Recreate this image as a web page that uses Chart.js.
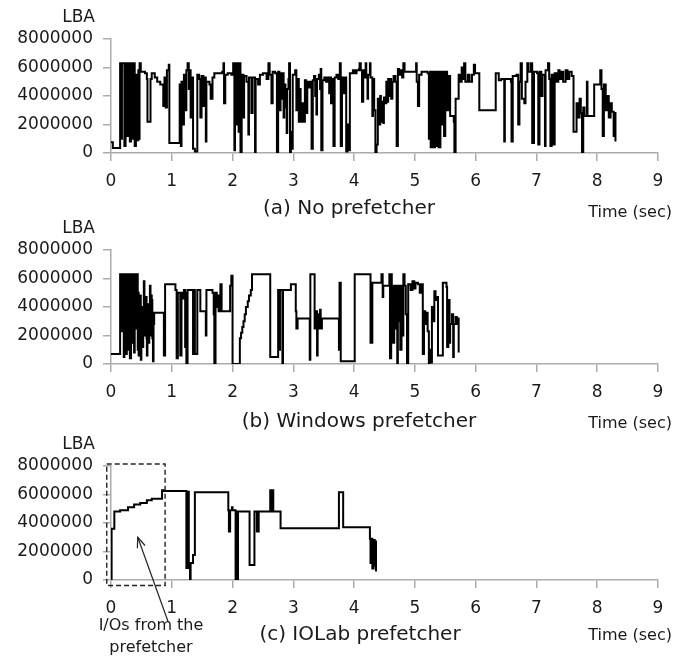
<!DOCTYPE html>
<html><head><meta charset="utf-8">
<script src="https://cdn.jsdelivr.net/npm/chart.js@4.4.1/dist/chart.umd.min.js"></script>
<style>
html,body{margin:0;padding:0;background:#fff;}
#wrap{position:relative;width:684px;height:671px;overflow:hidden;font-family:"DejaVu Sans",sans-serif;color:#1a1a1a;}
canvas{position:absolute;left:0;}
.t{position:absolute;white-space:nowrap;line-height:1;z-index:2;}
.c{transform:translate(-50%,-50%);}
.r{transform:translateY(-50%);}
</style></head><body>
<div id="wrap">
<canvas id="ca" width="684" height="200" style="top:-1px"></canvas>
<canvas id="cb" width="684" height="200" style="top:210px"></canvas>
<canvas id="cc" width="684" height="200" style="top:426px"></canvas>

<div class="t r" style="right:589px;top:16px;font-size:17px">LBA</div>
<div class="t r" style="right:589px;top:227px;font-size:17px">LBA</div>
<div class="t r" style="right:589px;top:443px;font-size:17px">LBA</div>

<div class="t c" style="left:349px;top:207px;font-size:20px">(a) No prefetcher</div>
<div class="t c" style="left:359px;top:420px;font-size:20px">(b) Windows prefetcher</div>
<div class="t c" style="left:360px;top:633px;font-size:20px">(c) IOLab prefetcher</div>

<div class="t r" style="right:12px;top:212px;font-size:16px">Time (sec)</div>
<div class="t r" style="right:12px;top:423px;font-size:16px">Time (sec)</div>
<div class="t r" style="right:12px;top:635px;font-size:16px">Time (sec)</div>

<div class="t c" style="left:151px;top:625px;font-size:16px">I/Os from the</div>
<div class="t c" style="left:151px;top:647px;font-size:16px">prefetcher</div>
</div>
<script>
// ---------- data ----------
const xTicks = [0,1,2,3,4,5,6,7,8,9];
const yTicks = [0,2000000,4000000,6000000,8000000];

// (a) No prefetcher : [time (sec), LBA]
const noPrefetcher = [
[0.00,0.75e6],[0.03,0.35e6],[0.15,6.3e6],[0.17,1.0e6],[0.18,6.3e6],[0.22,0.5e6],[0.24,6.3e6],[0.26,1.2e6],
[0.28,6.3e6],[0.31,0.8e6],[0.33,6.3e6],[0.35,1.0e6],[0.37,6.3e6],[0.39,0.5e6],[0.41,5.5e6],[0.43,0.9e6],
[0.45,5.8e6],[0.46,1.0e6],[0.47,6.3e6],[0.49,5.7e6],[0.56,5.6e6],[0.59,5.2e6],[0.60,2.2e6],[0.65,5.2e6],
[0.67,5.6e6],[0.72,5.3e6],[0.76,5.0e6],[0.81,4.8e6],[0.86,3.3e6],[0.88,5.3e6],[0.90,3.2e6],[0.92,5.8e6],
[0.95,6.2e6],[0.96,0.7e6],[1.13,4.8e6],[1.15,0.5e6],[1.16,5.0e6],[1.19,2.0e6],[1.20,5.5e6],[1.23,3.0e6],
[1.24,5.8e6],[1.26,6.3e6],[1.28,4.5e6],[1.29,5.8e6],[1.31,2.5e6],[1.32,5.3e6],[1.35,0.3e6],[1.38,0.1e6],
[1.42,5.5e6],[1.45,5.2e6],[1.47,2.5e6],[1.49,5.4e6],[1.52,3.3e6],[1.53,5.3e6],[1.56,0.8e6],[1.57,5.0e6],
[1.62,4.8e6],[1.64,3.8e6],[1.67,5.3e6],[1.70,5.6e6],[1.83,5.7e6],[1.85,6.3e6],[1.86,3.5e6],[1.88,5.5e6],
[1.92,5.6e6],[1.98,5.5e6],[2.01,6.3e6],[2.03,0.2e6],[2.04,6.3e6],[2.06,2.0e6],[2.08,6.3e6],[2.10,1.5e6],
[2.12,6.3e6],[2.13,0.05e6],[2.15,5.5e6],[2.18,2.5e6],[2.19,5.4e6],[2.23,5.0e6],[2.26,1.3e6],[2.27,5.3e6],
[2.31,2.8e6],[2.33,5.3e6],[2.37,0.05e6],[2.38,5.2e6],[2.42,4.8e6],[2.45,5.5e6],[2.50,5.6e6],[2.56,5.2e6],
[2.59,6.3e6],[2.61,5.5e6],[2.64,3.5e6],[2.66,5.7e6],[2.70,5.6e6],[2.73,0.05e6],[2.75,5.7e6],[2.77,3.0e6],
[2.79,5.6e6],[2.80,3.8e6],[2.82,5.6e6],[2.84,2.5e6],[2.85,4.8e6],[2.87,3.2e6],[2.89,1.4e6],[2.90,4.5e6],
[2.92,5.2e6],[2.93,6.3e6],[2.945,0.05e6],[2.96,1.5e6],[2.98,0.3e6],[2.99,5.5e6],[3.03,5.8e6],[3.05,3.0e6],
[3.07,5.2e6],[3.09,2.2e6],[3.10,4.5e6],[3.12,2.2e6],[3.15,3.5e6],[3.17,2.2e6],[3.19,5.1e6],[3.21,2.8e6],
[3.23,5.0e6],[3.26,4.6e6],[3.28,5.0e6],[3.30,0.3e6],[3.32,5.1e6],[3.34,5.4e6],[3.36,4.0e6],[3.38,2.7e6],
[3.39,5.2e6],[3.42,5.5e6],[3.44,4.5e6],[3.45,5.9e6],[3.46,0.2e6],[3.48,5.1e6],[3.51,5.3e6],[3.54,5.0e6],
[3.56,5.3e6],[3.59,4.2e6],[3.61,5.3e6],[3.62,3.5e6],[3.64,5.2e6],[3.66,0.5e6],[3.68,5.3e6],[3.71,5.5e6],
[3.74,5.2e6],[3.765,6.3e6],[3.78,0.5e6],[3.80,5.3e6],[3.83,4.2e6],[3.85,5.3e6],[3.87,0.1e6],[3.89,2.0e6],
[3.91,0.2e6],[3.93,5.6e6],[3.98,5.8e6],[4.01,5.6e6],[4.04,5.8e6],[4.08,5.9e6],[4.09,6.3e6],[4.11,5.8e6],
[4.13,3.6e6],[4.15,5.8e6],[4.17,5.3e6],[4.19,6.3e6],[4.20,5.3e6],[4.22,3.8e6],[4.23,5.5e6],[4.26,6.3e6],
[4.27,5.3e6],[4.30,2.6e6],[4.31,5.2e6],[4.33,3.0e6],[4.35,0.05e6],[4.37,0.6e6],[4.39,3.8e6],[4.41,2.0e6],
[4.43,4.0e6],[4.44,2.2e6],[4.46,3.6e6],[4.48,2.1e6],[4.49,3.9e6],[4.51,3.5e6],[4.53,5.0e6],[4.55,3.6e6],
[4.56,5.2e6],[4.58,4.0e6],[4.60,5.2e6],[4.61,3.8e6],[4.63,5.0e6],[4.65,5.4e6],[4.68,5.0e6],[4.70,0.5e6],
[4.72,5.9e6],[4.74,5.5e6],[4.765,5.8e6],[4.79,5.3e6],[4.81,6.3e6],[4.83,5.7e6],
[5.02,6.3e6],[5.03,5.0e6],[5.05,3.3e6],[5.07,5.5e6],[5.11,5.7e6],[5.21,5.6e6],[5.23,1.0e6],[5.25,5.7e6],
[5.26,0.4e6],[5.28,5.7e6],[5.31,0.4e6],[5.33,5.7e6],[5.35,0.5e6],[5.37,5.7e6],[5.39,0.4e6],[5.42,5.7e6],
[5.44,2.0e6],[5.46,5.7e6],[5.48,1.2e6],[5.50,5.7e6],[5.53,3.0e6],[5.55,5.4e6],[5.58,2.6e6],[5.64,2.2e6],
[5.65,0.0e6],[5.67,3.8e6],[5.72,5.5e6],[5.75,5.0e6],[5.77,6.0e6],[5.79,5.2e6],[5.81,6.3e6],[5.83,5.0e6],
[5.87,5.5e6],[5.90,5.0e6],[5.94,5.5e6],[5.97,6.2e6],[5.99,5.6e6],[6.06,3.0e6],[6.33,5.6e6],[6.38,5.1e6],
[6.42,5.2e6],[6.47,0.8e6],[6.48,5.2e6],[6.58,5.0e6],[6.59,0.8e6],[6.61,5.4e6],[6.67,5.5e6],[6.70,2.0e6],
[6.72,5.0e6],[6.74,6.3e6],[6.76,3.8e6],[6.80,3.5e6],[6.82,5.0e6],[6.85,6.3e6],[6.87,5.7e6],[6.91,6.3e6],
[6.93,0.7e6],[6.96,5.7e6],[7.01,5.6e6],[7.03,0.6e6],[7.05,5.7e6],[7.08,4.0e6],[7.10,5.5e6],[7.14,0.5e6],
[7.15,5.8e6],[7.19,6.3e6],[7.21,5.2e6],[7.23,0.5e6],[7.25,5.5e6],[7.28,0.6e6],[7.30,5.6e6],[7.33,5.0e6],
[7.36,5.8e6],[7.38,5.2e6],[7.41,5.7e6],[7.44,5.0e6],[7.48,5.8e6],[7.51,5.2e6],[7.54,5.7e6],[7.58,5.4e6],
[7.61,1.5e6],[7.66,3.5e6],[7.68,2.5e6],[7.71,3.8e6],[7.73,2.8e6],[7.75,0.05e6],[7.77,3.2e6],[7.79,2.6e6],
[7.83,5.0e6],[7.84,2.6e6],[7.95,4.8e6],[8.05,5.8e6],[8.07,4.5e6],[8.09,1.2e6],[8.11,4.8e6],[8.14,3.0e6],
[8.17,4.0e6],[8.19,2.5e6],[8.22,3.5e6],[8.24,2.9e6],[8.27,1.2e6],[8.29,2.8e6],[8.30,0.8e6]
];

// (b) Windows prefetcher : [time (sec), LBA]
const windowsPrefetcher = [
[0.00,0.7e6],[0.15,6.3e6],[0.17,2.3e6],[0.18,6.3e6],[0.21,0.5e6],[0.22,6.3e6],[0.25,0.7e6],[0.26,6.3e6],
[0.28,1.0e6],[0.30,6.3e6],[0.31,0.4e6],[0.33,6.3e6],[0.35,1.5e6],[0.36,6.3e6],[0.38,0.8e6],[0.39,6.3e6],
[0.41,2.5e6],[0.43,6.3e6],[0.44,1.0e6],[0.45,5.0e6],[0.455,0.6e6],[0.46,4.5e6],[0.47,1.5e6],[0.48,2.5e6],
[0.485,4.8e6],[0.49,0.3e6],[0.50,3.2e6],[0.51,4.0e6],[0.52,1.2e6],[0.53,2.8e6],[0.54,5.8e6],[0.55,2.5e6],
[0.56,2.0e6],[0.57,4.0e6],[0.58,4.7e6],[0.585,1.8e6],[0.59,0.6e6],[0.60,3.8e6],[0.61,4.2e6],[0.62,1.5e6],
[0.63,2.5e6],[0.64,5.5e6],[0.65,3.0e6],[0.66,2.0e6],[0.665,4.8e6],[0.67,4.5e6],[0.68,1.8e6],[0.69,0.2e6],
[0.70,2.8e6],[0.71,3.6e6],[0.87,0.6e6],[0.89,5.6e6],[1.06,5.2e6],[1.08,0.4e6],[1.10,5.0e6],
[1.14,0.6e6],[1.16,5.0e6],[1.18,4.6e6],[1.20,5.2e6],[1.22,1.2e6],[1.23,5.0e6],[1.24,0.0e6],[1.26,5.2e6],
[1.35,0.7e6],[1.36,5.2e6],[1.38,0.7e6],[1.42,5.2e6],[1.47,3.7e6],[1.56,2.0e6],[1.57,5.2e6],[1.67,5.0e6],
[1.69,3.5e6],[1.70,0.0e6],[1.72,5.0e6],[1.74,4.0e6],[1.75,4.8e6],[1.77,3.7e6],[1.80,5.6e6],[1.82,3.7e6],
[1.96,5.5e6],[1.98,6.2e6],[2.00,0.0e6],[2.12,1.8e6],[2.14,2.2e6],[2.16,2.6e6],[2.18,3.0e6],[2.20,3.5e6],
[2.22,4.0e6],[2.25,4.4e6],[2.27,4.8e6],[2.30,5.2e6],[2.32,6.3e6],[2.62,0.5e6],[2.75,5.2e6],[2.77,1.0e6],
[2.78,5.2e6],[2.82,0.0e6],[2.83,5.2e6],[2.96,5.6e6],[3.04,3.7e6],[3.05,2.5e6],[3.07,3.2e6],[3.27,0.3e6],
[3.28,6.3e6],[3.35,2.5e6],[3.37,3.7e6],[3.39,0.6e6],[3.40,3.5e6],[3.42,2.5e6],[3.44,3.8e6],[3.45,2.5e6],
[3.47,3.2e6],[3.75,1.0e6],[3.76,5.7e6],[3.78,0.2e6],[4.01,6.3e6],[4.27,1.5e6],[4.30,5.7e6],[4.45,6.3e6],
[4.47,4.7e6],[4.48,5.5e6],[4.58,6.3e6],[4.59,0.4e6],[4.61,6.3e6],[4.62,5.5e6],[4.64,1.5e6],[4.66,5.5e6],
[4.67,2.5e6],[4.69,5.5e6],[4.71,0.0e6],[4.72,5.5e6],[4.75,3.0e6],[4.76,1.0e6],[4.78,5.5e6],[4.80,2.0e6],
[4.81,6.3e6],[4.83,5.5e6],[4.85,3.5e6],[4.87,0.0e6],[4.89,5.6e6],[4.93,5.2e6],[4.96,5.8e6],[4.99,5.3e6],
[5.01,5.7e6],[5.05,5.6e6],[5.08,5.0e6],[5.11,5.6e6],[5.13,0.7e6],[5.15,3.7e6],[5.17,2.8e6],[5.18,3.6e6],
[5.21,2.3e6],[5.23,0.0e6],[5.24,1.0e6],[5.26,0.1e6],[5.28,4.0e6],[5.30,3.0e6],[5.32,5.1e6],[5.34,4.5e6],
[5.36,4.7e6],[5.38,0.6e6],[5.46,5.7e6],[5.52,5.4e6],[5.53,1.2e6],[5.55,4.5e6],[5.57,1.5e6],[5.58,2.8e6],
[5.61,3.5e6],[5.63,0.5e6],[5.64,2.8e6],[5.67,3.3e6],[5.69,2.8e6],[5.71,3.2e6],[5.72,0.8e6]
];

// (c) IOLab prefetcher : [time (sec), LBA]
const iolabPrefetcher = [
[0.00,0.0e6],[0.01,3.6e6],[0.055,4.8e6],[0.15,4.9e6],[0.28,5.1e6],[0.38,5.3e6],[0.48,5.4e6],[0.59,5.6e6],
[0.67,5.7e6],[0.84,6.3e6],[0.87,6.25e6],[1.24,0.85e6],[1.26,6.2e6],[1.28,0.85e6],[1.30,0.0e6],[1.31,1.2e6],
[1.35,1.75e6],[1.38,6.15e6],[1.93,4.9e6],[1.94,3.4e6],[1.96,4.9e6],[1.99,5.1e6],[2.00,4.9e6],[2.05,0.0e6],
[2.06,4.8e6],[2.07,0.0e6],[2.09,4.8e6],[2.28,1.05e6],[2.36,4.8e6],[2.40,3.4e6],[2.41,4.8e6],[2.42,3.4e6],
[2.43,4.8e6],[2.62,6.3e6],[2.64,4.8e6],[2.65,6.3e6],[2.67,4.8e6],[2.79,3.63e6],[3.75,6.15e6],[3.82,3.7e6],
[4.26,2.9e6],[4.27,1.2e6],[4.29,2.9e6],[4.30,0.8e6],[4.32,2.8e6],[4.34,1.0e6],[4.35,2.7e6],[4.36,0.6e6]
];

// annotation in panel (c), in data units (sec, LBA)
const annoBox = {xMin:-0.07, xMax:0.89, yMin:-0.39e6, yMax:8.14e6};
const annoArrow = {from:[0.94,-2.93e6], to:[0.44,3.0e6]};

// ---------- drawing ----------
const FONT = '"DejaVu Sans", sans-serif';
const AXIS = '#ababab';
const TXT = '#1a1a1a';

const annotationPlugin = {
  id:'anno',
  afterDraw(chart){
    const xs = chart.scales.x, ys = chart.scales.y, ctx = chart.ctx;
    ctx.save();
    ctx.strokeStyle = '#222';
    ctx.lineWidth = 1.4;
    ctx.setLineDash([5,3]);
    const x0 = xs.getPixelForValue(annoBox.xMin), x1 = xs.getPixelForValue(annoBox.xMax);
    const y0 = ys.getPixelForValue(annoBox.yMax), y1 = ys.getPixelForValue(annoBox.yMin);
    ctx.strokeRect(x0, y0, x1-x0, y1-y0);
    ctx.setLineDash([]);
    const tx = xs.getPixelForValue(annoArrow.from[0]), ty = ys.getPixelForValue(annoArrow.from[1]);
    const hx = xs.getPixelForValue(annoArrow.to[0]), hy = ys.getPixelForValue(annoArrow.to[1]);
    ctx.lineWidth = 1.2;
    ctx.beginPath(); ctx.moveTo(tx,ty); ctx.lineTo(hx,hy); ctx.stroke();
    const ang = Math.atan2(hy-ty, hx-tx), L = 11, W = 0.38;
    ctx.beginPath();
    ctx.moveTo(hx - L*Math.cos(ang-W), hy - L*Math.sin(ang-W));
    ctx.lineTo(hx, hy);
    ctx.lineTo(hx - L*Math.cos(ang+W), hy - L*Math.sin(ang+W));
    ctx.stroke();
    ctx.restore();
  }
};

function makeChart(id, data, plugins){
  return new Chart(document.getElementById(id), {
    type:'line',
    data:{datasets:[{
      data: data.map(p=>({x:p[0], y:p[1]})),
      borderColor:'#000', borderWidth:2, pointRadius:0, stepped:true, fill:false, tension:0
    }]},
    options:{
      responsive:false, animation:false, events:[],
      layout:{padding:{top:40,right:26,left:0,bottom:0}},
      plugins:{legend:{display:false}, tooltip:{enabled:false}},
      scales:{
        x:{type:'linear', min:0, max:9,
           afterBuildTicks:s=>{s.ticks = xTicks.map(v=>({value:v}));},
           afterFit:s=>{s.height = 46;},
           ticks:{autoSkip:false, maxRotation:0, padding:10, color:TXT, font:{family:FONT,size:17}, callback:v=>String(v)},
           grid:{drawOnChartArea:false, drawTicks:true, tickLength:8, color:AXIS, lineWidth:1.5},
           border:{display:true, color:AXIS, width:1.5}},
        y:{min:0, max:8000000,
           afterBuildTicks:s=>{s.ticks = yTicks.map(v=>({value:v}));},
           afterFit:s=>{s.width = 111;},
           ticks:{padding:10, color:TXT, font:{family:FONT,size:17}, callback:v=>String(v)},
           grid:{drawOnChartArea:false, drawTicks:true, tickLength:8, color:AXIS, lineWidth:1.5},
           border:{display:true, color:AXIS, width:1.5}}
      }
    },
    plugins: plugins || []
  });
}
makeChart('ca', noPrefetcher);
makeChart('cb', windowsPrefetcher);
makeChart('cc', iolabPrefetcher, [annotationPlugin]);
</script>
</body></html>
